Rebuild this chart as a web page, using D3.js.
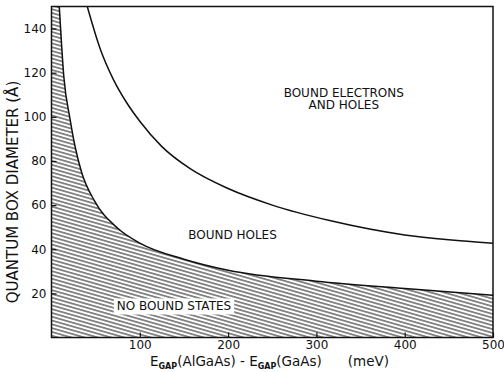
<!DOCTYPE html>
<html>
<head>
<meta charset="utf-8">
<script src="https://cdn.jsdelivr.net/npm/d3@7"></script>
<style>
  html, body { margin: 0; padding: 0; background: #fff; }
  svg { display: block; }
  text { font-family: "DejaVu Sans", sans-serif; fill: #111; }
</style>
</head>
<body>
<svg id="chart" width="504" height="372"></svg>
<script>
// Band offset (meV) and box diameter (Å) along the "no bound states" boundary
const lowerGap = [8.8, 14, 21, 27, 34, 48.5, 75, 100, 150, 200, 300, 400, 500];
const lowerDiam = [150, 118, 99, 86, 75, 62, 49.5, 42.8, 35.5, 30.5, 25.5, 22.2, 19.2];

// Boundary above which both electrons and holes are bound
const upperGap = [40.5, 55, 70, 85, 100, 125, 157, 200, 250, 315, 400, 450, 500];
const upperDiam = [150, 131, 117, 106.5, 98, 86.5, 76.5, 67.5, 60, 53, 46.5, 44.3, 42.7];

const xTicks = [100, 200, 300, 400, 500];
const yTicks = [20, 40, 60, 80, 100, 120, 140];

const regionLabels = [
  { lines: ["BOUND ELECTRONS", "AND HOLES"], gap: 331, diam: 111 },
  { lines: ["BOUND HOLES"], gap: 205, diam: 46.5 }
];
const noStateLabel = { text: "NO BOUND STATES", gap: 74, diam: 14.2 };

const svg = d3.select("#chart");
const x = d3.scaleLinear().domain([0, 500]).range([51.5, 493]);
const y = d3.scaleLinear().domain([0, 150]).range([337.5, 6.5]);

const defs = svg.append("defs");
defs.append("clipPath").attr("id", "plot-clip")
  .append("rect")
  .attr("x", x(0)).attr("y", y(150))
  .attr("width", x(500) - x(0)).attr("height", y(0) - y(150));

const hatch = defs.append("pattern")
  .attr("id", "hatch")
  .attr("patternUnits", "userSpaceOnUse")
  .attr("width", 12).attr("height", 3.65)
  .attr("patternTransform", "rotate(16)");
hatch.append("line")
  .attr("x1", 0).attr("x2", 12)
  .attr("y1", 1.8).attr("y2", 1.8)
  .attr("stroke", "#1a1a1a").attr("stroke-width", 1);

const lower = lowerGap.map((g, i) => ({ g, d: lowerDiam[i] }));
const upper = upperGap.map((g, i) => ({ g, d: upperDiam[i] }));

const plot = svg.append("g").attr("clip-path", "url(#plot-clip)");

// Hatched "no bound states" region: from the left edge under the lower boundary
const region = [{ g: 0, d: 150 }].concat(lower);
plot.append("path")
  .datum(region)
  .attr("fill", "url(#hatch)")
  .attr("d", d3.area()
    .x(p => x(p.g))
    .y0(y(0))
    .y1(p => y(p.d))
    .curve(d3.curveMonotoneX));

const line = d3.line().x(p => x(p.g)).y(p => y(p.d)).curve(d3.curveMonotoneX);
plot.append("path").datum(lower)
  .attr("fill", "none").attr("stroke", "#111").attr("stroke-width", 1.5)
  .attr("d", line);
plot.append("path").datum(upper)
  .attr("fill", "none").attr("stroke", "#111").attr("stroke-width", 1.5)
  .attr("d", line);

// Label sitting on a white patch inside the hatching
const nl = svg.append("g");
const nlText = nl.append("text")
  .attr("x", x(noStateLabel.gap)).attr("y", y(noStateLabel.diam))
  .attr("dy", "0.36em")
  .attr("font-size", 12)
  .text(noStateLabel.text);
const bb = nlText.node().getBBox();
nl.insert("rect", "text")
  .attr("x", bb.x - 3).attr("y", bb.y - 1)
  .attr("width", bb.width + 6).attr("height", bb.height + 2)
  .attr("fill", "#fff");

regionLabels.forEach(lab => {
  const t = svg.append("text")
    .attr("x", x(lab.gap)).attr("y", y(lab.diam))
    .attr("text-anchor", "middle")
    .attr("font-size", 12);
  lab.lines.forEach((s, i) => {
    t.append("tspan").attr("x", x(lab.gap)).attr("dy", i === 0 ? "0.36em" : "1.05em").text(s);
  });
});

// Axes with inward ticks
const xAxis = svg.append("g").attr("transform", `translate(0,${y(0)})`)
  .call(d3.axisBottom(x).tickValues(xTicks).tickSize(-5).tickPadding(3));
const yAxis = svg.append("g").attr("transform", `translate(${x(0)},0)`)
  .call(d3.axisLeft(y).tickValues(yTicks).tickSize(-5).tickPadding(5));
[xAxis, yAxis].forEach(a => {
  a.select(".domain").remove();
  a.selectAll(".tick line").attr("stroke", "#111").attr("stroke-width", 1.2);
  a.selectAll(".tick text").attr("font-family", "DejaVu Sans").attr("font-size", 12).attr("fill", "#111");
});

// Frame
svg.append("rect")
  .attr("x", x(0)).attr("y", y(150))
  .attr("width", x(500) - x(0)).attr("height", y(0) - y(150))
  .attr("fill", "none").attr("stroke", "#111").attr("stroke-width", 1.5);

// Axis titles
const xt = svg.append("text").attr("x", 150).attr("y", 365.5).attr("font-size", 13.5);
xt.append("tspan").text("E");
xt.append("tspan").attr("font-size", 8).attr("font-weight", "bold").attr("dy", 3).text("GAP");
xt.append("tspan").attr("dy", -3).text("(AlGaAs) - E");
xt.append("tspan").attr("font-size", 8).attr("font-weight", "bold").attr("dy", 3).text("GAP");
xt.append("tspan").attr("dy", -3).text("(GaAs)");
xt.append("tspan").attr("dx", 26).text("(meV)");

svg.append("text")
  .attr("transform", `translate(18,${192}) rotate(-90)`)
  .attr("text-anchor", "middle")
  .attr("font-size", 15)
  .text("QUANTUM BOX DIAMETER (Å)");
</script>
</body>
</html>
